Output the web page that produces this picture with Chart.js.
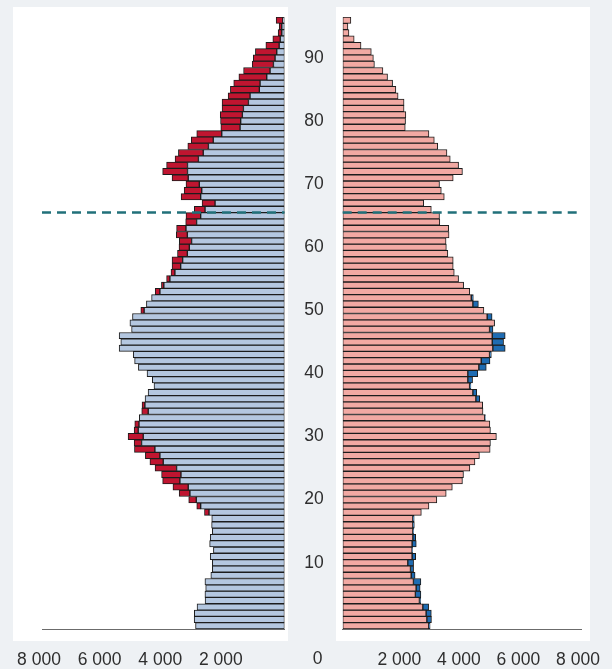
<!DOCTYPE html>
<html>
<head>
<meta charset="utf-8">
<script src="https://cdn.jsdelivr.net/npm/chart.js@4/dist/chart.umd.min.js"></script>
<style>
  html, body { margin: 0; padding: 0; }
  body { width: 612px; height: 669px; background: #eef1f4; position: relative; overflow: hidden; }
  .panel { position: absolute; background: #fff; }
  #leftPanel { left: 13px; top: 7px; width: 275px; height: 634px; }
  #rightPanel { left: 336px; top: 7px; width: 254px; height: 634px; }
  canvas { position: absolute; top: 0; }
  #maleChart { left: 0; }
  #femaleChart { left: 290px; }
</style>
</head>
<body>
<div class="panel" id="leftPanel"></div>
<div class="panel" id="rightPanel"></div>
<canvas id="maleChart" width="290" height="669"></canvas>
<canvas id="femaleChart" width="322" height="669"></canvas>

<script>
// Ages 0 .. 96 (one bar per year of age)
const ages = Array.from({ length: 97 }, (_, i) => i)

// Population by single year of age
const males = [
  2935, 2980, 2975, 2885, 2620, 2625, 2600, 2625, 2430, 2380,
  2380, 2450, 2345, 2470, 2450, 2380, 2405, 2400, 2490, 2765,
  2910, 3120, 3175, 3450, 3415, 3560, 4000, 4110, 4275, 4715,
  4660, 4825, 4800, 4790, 4495, 4605, 4600, 4500, 4305, 4360,
  4535, 4820, 4945, 4990, 5455, 5400, 5455, 5045, 5100, 5015,
  4630, 4555, 4385, 4110, 3980, 3780, 3615, 3425, 3360, 3205,
  3140, 3065, 3205, 3250, 2900, 2765, 2620, 2290, 2765, 2730,
  2810, 3175, 3200, 3200, 2840, 2680, 2510, 2350, 2070, 1465,
  1445, 1390, 1355, 1190, 1135, 830, 805, 585, 475, 365,
  310, 255, 175, 140, 90, 90, 55
]

const females = [
  2890, 2825, 2800, 2690, 2575, 2440, 2465, 2375, 2300, 2275,
  2185, 2330, 2330, 2330, 2355, 2355, 2355, 2355, 2640, 2895,
  3160, 3475, 3680, 4020, 4055, 4270, 4440, 4590, 4950, 4960,
  5160, 4960, 4940, 4770, 4710, 4700, 4470, 4370, 4260, 4200,
  4200, 4570, 4650, 4930, 5040, 5020, 5020, 4930, 5100, 4850,
  4740, 4370, 4315, 4265, 4060, 3890, 3745, 3710, 3710, 3530,
  3480, 3470, 3570, 3560, 3260, 3250, 2975, 2720, 3410, 3310,
  3250, 3710, 4020, 3890, 3610, 3500, 3190, 3075, 2895, 2100,
  2110, 2120, 2060, 2060, 1860, 1785, 1675, 1505, 1350, 1065,
  1030, 960, 615, 385, 210, 175, 275
]

const ageTicks = [10, 20, 30, 40, 50, 60, 70, 80, 90]
const valueTicks = [0, 2000, 4000, 6000, 8000]
const retirementAge = 65.5

// Surplus of the other sex, drawn on top of each side
const femaleSurplus = ages.map(i => females[i] > males[i] ? females[i] - males[i] : null)
const maleSurplus = ages.map(i => males[i] > females[i] ? males[i] - females[i] : null)

const tickFont = { family: "'Liberation Sans', Arial, sans-serif", size: 17.5 }
const tickColor = '#2e2e2e'

const formatThousands = v => String(v).replace(/\B(?=(\d{3})+(?!\d))/g, ' ')

// keep the chart area exactly where layout.padding puts it
const noLabelPadding = scale => {
  scale.paddingLeft = 0
  scale.paddingRight = 0
  scale.paddingTop = 0
  scale.paddingBottom = 0
}

const retirementLine = {
  id: 'retirementLine',
  afterDatasetsDraw(chart) {
    const { ctx, chartArea, scales } = chart
    const y = scales.y.getPixelForValue(retirementAge)
    ctx.save()
    ctx.strokeStyle = '#21707a'
    ctx.lineWidth = 2.5
    ctx.setLineDash([9, 6])
    ctx.beginPath()
    ctx.moveTo(chartArea.left, y)
    ctx.lineTo(chartArea.right, y)
    ctx.stroke()
    ctx.restore()
  }
}

// shared "0" under the age column
const zeroLabel = {
  id: 'zeroLabel',
  afterDraw(chart) {
    const { ctx, scales } = chart
    ctx.save()
    ctx.font = `${tickFont.size}px ${tickFont.family}`
    ctx.fillStyle = tickColor
    ctx.textAlign = 'center'
    ctx.textBaseline = 'top'
    ctx.fillText(formatThousands(valueTicks[0]), scales.y.right - 25, scales.x.top + 21)
    ctx.restore()
  }
}

function barDataset(label, data, color) {
  return {
    label: label,
    data: data,
    backgroundColor: color,
    borderColor: '#1c1c1c',
    borderWidth: 1,
    borderSkipped: false,
    barPercentage: 1,
    categoryPercentage: 1
  }
}

function valueAxis(reverse) {
  return {
    type: 'linear',
    reverse: reverse,
    stacked: true,
    min: valueTicks[0],
    max: valueTicks[valueTicks.length - 1],
    grid: { display: false, drawTicks: false },
    border: { display: true, color: '#6b6b6b', width: 1 },
    ticks: {
      stepSize: 2000,
      padding: 21,
      labelOffset: -3,
      color: tickColor,
      font: tickFont,
      callback: v => v === 0 ? '' : formatThousands(v)
    },
    afterFit: scale => {
      scale.height = 40
      noLabelPadding(scale)
    }
  }
}

const commonPlugins = {
  legend: { display: false },
  tooltip: { enabled: false }
}

// Men (left, reversed axis)
new Chart(document.getElementById('maleChart'), {
  type: 'bar',
  data: {
    labels: ages,
    datasets: [
      barDataset('Men', males, '#b4c7e0'),
      barDataset('Women surplus', femaleSurplus, '#c01530')
    ]
  },
  options: {
    indexAxis: 'y',
    responsive: false,
    animation: false,
    layout: { padding: { top: 17, left: 42, right: 5.5, bottom: 0 } },
    plugins: commonPlugins,
    scales: {
      x: valueAxis(true),
      y: { type: 'category', reverse: true, stacked: true, display: false }
    }
  },
  plugins: [retirementLine]
})

// Women (right)
new Chart(document.getElementById('femaleChart'), {
  type: 'bar',
  data: {
    labels: ages,
    datasets: [
      barDataset('Women', females, '#f2a9a3'),
      barDataset('Men surplus', maleSurplus, '#1e6cb3')
    ]
  },
  options: {
    indexAxis: 'y',
    responsive: false,
    animation: false,
    layout: { padding: { top: 17, left: 0, right: 31, bottom: 0 } },
    plugins: commonPlugins,
    scales: {
      x: valueAxis(false),
      y: {
        type: 'category',
        position: 'left',
        reverse: true,
        stacked: true,
        grid: { display: false, drawTicks: false },
        border: { display: false },
        ticks: {
          autoSkip: false,
          padding: 19,
          color: tickColor,
          font: tickFont,
          callback: function (v) {
            const age = Number(this.getLabelForValue(v))
            return ageTicks.includes(age) ? String(age) : ''
          }
        },
        afterFit: scale => {
          scale.width = 52.7
          noLabelPadding(scale)
        }
      }
    }
  },
  plugins: [retirementLine, zeroLabel]
})
</script>
</body>
</html>
